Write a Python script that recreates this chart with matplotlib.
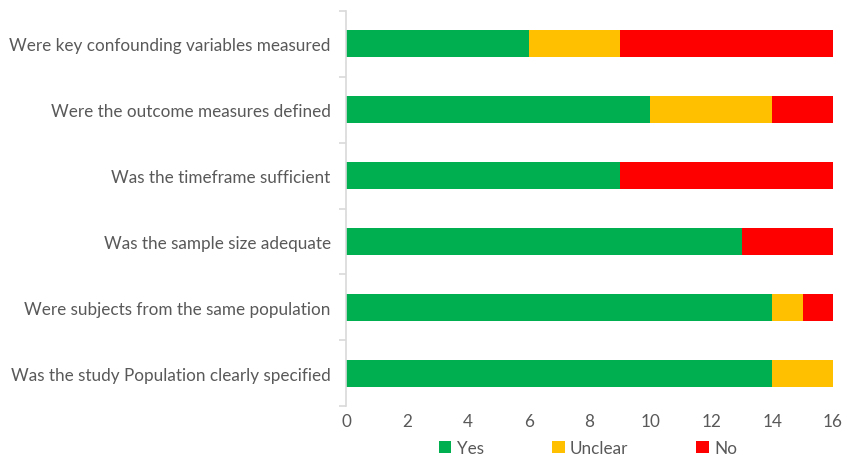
import matplotlib
matplotlib.use("Agg")
import matplotlib.pyplot as plt
import numpy as np

plt.rcParams['font.family'] = ['Lato', 'DejaVu Sans']

categories = [
    "Was the study Population clearly specified",
    "Were subjects from the same population",
    "Was the sample size adequate",
    "Was the timeframe sufficient",
    "Were the outcome measures defined",
    "Were key confounding variables measured",
]
yes = [14, 14, 13, 9, 10, 6]
unclear = [2, 1, 0, 0, 4, 3]
no = [0, 1, 3, 7, 2, 7]
series_names = ["Yes", "Unclear", "No"]
colors = ["#00B050", "#FFC000", "#FF0000"]
xticks = [0, 2, 4, 6, 8, 10, 12, 14, 16]

fig = plt.figure(figsize=(8.56, 4.56), dpi=100)
ax = fig.add_axes([346/856, 1-407/456, (833-346)/856, (407-12)/456])

y = np.arange(len(categories))
left = np.zeros(len(categories))
for vals, name, c in zip([yes, unclear, no], series_names, colors):
    ax.barh(y, vals, left=left, height=0.41, color=c, label=name, edgecolor='none')
    left += np.array(vals)

ax.set_xlim(0, 16)
ax.set_ylim(-0.5, len(categories) - 0.5)
ax.set_xticks(xticks)
ax.set_yticks(y)
ax.set_yticklabels(categories)
ax.set_yticks(np.arange(-0.5, len(categories)), minor=True)

txtc = "#595959"
fs = 12.3
ax.tick_params(axis='y', which='major', length=0, pad=11, labelsize=fs, labelcolor=txtc)
ax.tick_params(axis='y', which='minor', length=5, color='#d9d9d9', width=1.2)
ax.tick_params(axis='x', which='major', length=0, pad=5, labelsize=fs, labelcolor=txtc)

for s in ['top', 'right', 'bottom']:
    ax.spines[s].set_visible(False)
ax.spines['left'].set_color('#d9d9d9')
ax.spines['left'].set_linewidth(1.2)

fig.legend(loc='center', bbox_to_anchor=(588/856, 1-449/456), ncol=3, frameon=False,
           fontsize=fs, handlelength=0.75, handleheight=0.75, handletextpad=0.3,
           columnspacing=4.0, labelcolor=txtc)

fig.savefig("out.png", dpi=100)
